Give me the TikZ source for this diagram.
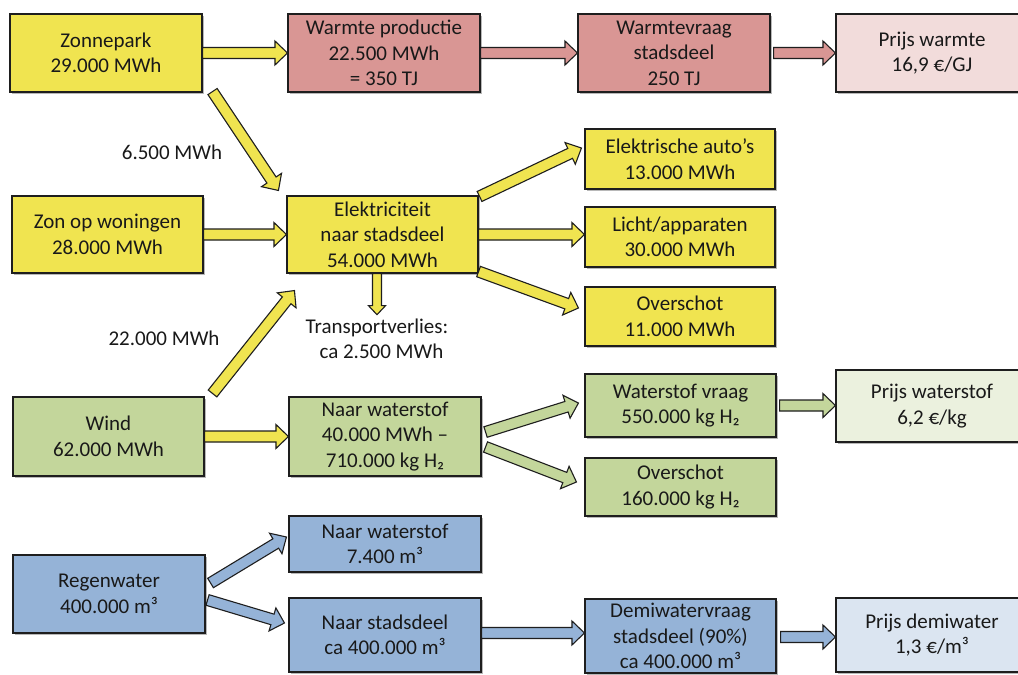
\documentclass[tikz,border=0pt]{standalone}
\usepackage{fontspec}
\setmainfont{Carlito}
\usetikzlibrary{calc,shadows}

\definecolor{sunyel}{RGB}{240,228,80}
\definecolor{heatred}{RGB}{217,150,148}
\definecolor{heatpink}{RGB}{242,220,219}
\definecolor{hgreen}{RGB}{195,214,155}
\definecolor{hgreenlt}{RGB}{235,241,222}
\definecolor{wblue}{RGB}{149,179,215}
\definecolor{wbluelt}{RGB}{219,229,241}
\definecolor{edge}{RGB}{30,30,30}

% block arrow: fill, shaft half width, head half width, head length, tail, tip
\newcommand\fatarrowsized[6]{%
  \path #5 coordinate (fa-s) #6 coordinate (fa-e);
  \path ($(fa-e)!#4!(fa-s)$) coordinate (fa-b);
  \draw[arrowline, fill=#1]
    ($(fa-s)!#2!90:(fa-e)$) -- ($(fa-b)!#2!90:(fa-e)$) --
    ($(fa-b)!#3!90:(fa-e)$) -- (fa-e) --
    ($(fa-b)!#3!-90:(fa-e)$) -- ($(fa-b)!#2!-90:(fa-e)$) --
    ($(fa-s)!#2!-90:(fa-e)$) -- cycle;
}
\newcommand\fatarrow[3]{\fatarrowsized{#1}{5.5pt}{12pt}{12.5pt}{#2}{#3}}

\begin{document}
\begin{tikzpicture}[x=1pt,y=-1pt,
  every node/.style={font=\fontsize{21}{25.5}\selectfont, text=black!90},
  flowbox/.style={draw=edge, line width=1.1pt, align=center, minimum width=192pt,
    inner sep=2pt,
    drop shadow={shadow xshift=1.6pt, shadow yshift=-2pt, opacity=0.28, fill=black}},
  arrowline/.style={draw=edge, line width=1.1pt, line join=miter},
  note/.style={align=center, inner sep=3pt}]

\useasboundingbox (0,0) rectangle (1018,675);
\fill[white] (0,0) rectangle (1018,675);
\clip (0,0) rectangle (1018,675);

% heat chain
\node[flowbox, fill=sunyel, minimum height=78pt] (zonnepark) at (106,53) {Zonnepark\\29.000 MWh};
\node[flowbox, fill=heatred, minimum height=78pt] (warmteprod) at (384,53) {Warmte productie\\22.500 MWh\\= 350 TJ};
\node[flowbox, fill=heatred, minimum height=78pt] (warmtevraag) at (674,53) {Warmtevraag\\stadsdeel\\250 TJ};
\node[flowbox, fill=heatpink, minimum height=78pt] (prijswarmte) at (932,53) {Prijs warmte\\16,9 €/GJ};

% electricity
\node[flowbox, fill=sunyel, minimum width=191pt, minimum height=77pt] (zon) at (107.5,234.5) {Zon op woningen\\28.000 MWh};
\node[flowbox, fill=sunyel, minimum width=191pt, minimum height=77pt] (elek) at (382.5,234.5) {Elektriciteit\\naar stadsdeel\\54.000 MWh};
\node[flowbox, fill=sunyel, minimum width=190pt, minimum height=60pt] (auto) at (680,159) {Elektrische auto’s\\13.000 MWh};
\node[flowbox, fill=sunyel, minimum width=190pt, minimum height=60pt] (licht) at (680,237) {Licht/apparaten\\30.000 MWh};
\node[flowbox, fill=sunyel, minimum width=190pt, minimum height=59pt] (overschot) at (680,316.5) {Overschot\\11.000 MWh};
\node[note] (verlies) at (377,339) {Transportverlies:\\\hspace*{9pt}ca 2.500 MWh};
\node[note] (lbla) at (172,152) {6.500 MWh};
\node[note] (lblb) at (164,338) {22.000 MWh};

% hydrogen
\node[flowbox, fill=hgreen, minimum width=191pt, minimum height=79pt] (wind) at (108.5,436.5) {Wind\\62.000 MWh};
\node[flowbox, fill=hgreen, minimum height=79pt] (waterstof) at (385,436.5) {Naar waterstof\\40.000 MWh –\\710.000 kg H₂};
\node[flowbox, fill=hgreen, minimum width=191pt, minimum height=63pt] (wvraag) at (680.5,405.5) {Waterstof vraag\\550.000 kg H₂};
\node[flowbox, fill=hgreenlt, minimum height=72pt] (prijswaterstof) at (932,406) {Prijs waterstof\\6,2 €/kg};
\node[flowbox, fill=hgreen, minimum width=191pt, minimum height=58pt] (overh) at (680.5,487) {Overschot\\160.000 kg H₂};

% water
\node[flowbox, fill=wblue, minimum height=78pt] (regen) at (109,594) {Regenwater\\400.000 m³};
\node[flowbox, fill=wblue, minimum height=56pt] (naarwater) at (385,544) {Naar waterstof\\7.400 m³};
\node[flowbox, fill=wblue, minimum height=74pt] (naarstad) at (385,635) {Naar stadsdeel\\ca 400.000 m³};
\node[flowbox, fill=wblue, minimum width=191pt, minimum height=74pt] (demi) at (680.5,636) {Demiwatervraag\\stadsdeel (90\%)\\ca 400.000 m³};
\node[flowbox, fill=wbluelt, minimum height=74pt] (prijsdemi) at (932,635) {Prijs demiwater\\1,3 €/m³};

% heat arrows
\fatarrow{sunyel}{(zonnepark.east)}{(warmteprod.west)}
\fatarrow{heatred}{(warmteprod.east)}{(warmtevraag.west)}
\fatarrow{heatred}{($(warmtevraag.east)+(3,0)$)}{(prijswarmte.west)}

% electricity arrows
\fatarrow{sunyel}{($(zonnepark.south east)+(10,-1)$)}{($(elek.north west)+(-8,-5)$)}
\fatarrow{sunyel}{(zon.east)}{(elek.west)}
\fatarrow{sunyel}{($(wind.north east)+(8,-3)$)}{($(elek.south west)+(8,17)$)}
\fatarrowsized{sunyel}{4.5pt}{8.5pt}{9pt}{($(elek.south)+(-5.5,0)$)}{($(verlies.north)+(0,-1)$)}
\fatarrow{sunyel}{($(elek.north east)+(1,1)$)}{($(auto.west)+(-3,-11)$)}
\fatarrow{sunyel}{(elek.east)}{(licht.west |- elek.east)}
\fatarrow{sunyel}{($(elek.south east)+(0,-2)$)}{($(overschot.west)+(-6,-8.5)$)}

% hydrogen arrows
\fatarrow{sunyel}{(wind.east)}{(waterstof.west)}
\fatarrow{hgreen}{($(waterstof.east)+(4,-4.5)$)}{($(wvraag.west)+(-6,-2.5)$)}
\fatarrow{hgreen}{($(waterstof.east)+(4,10.5)$)}{($(overh.west)+(-8,-5)$)}
\fatarrow{hgreen}{($(wvraag.east)+(3,0)$)}{(prijswaterstof.west |- wvraag.east)}

% water arrows
\fatarrow{wblue}{($(regen.east)+(5,-11)$)}{($(naarwater.west)+(-2,-7)$)}
\fatarrow{wblue}{($(regen.east)+(2,6)$)}{($(naarstad.west)+(-4,-12)$)}
\fatarrow{wblue}{($(naarstad.east)+(0,-2)$)}{($(demi.west)+(0,-3)$)}
\fatarrow{wblue}{($(demi.east)+(4,1)$)}{($(prijsdemi.west)+(0,2)$)}

\end{tikzpicture}
\end{document}
